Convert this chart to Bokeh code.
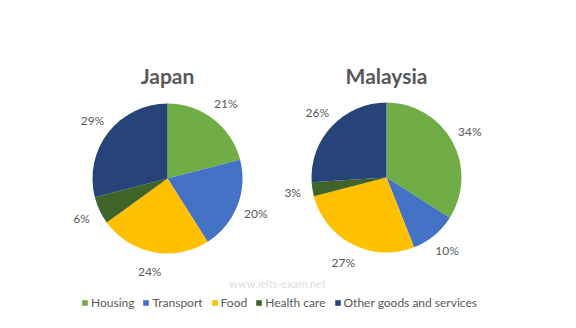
import numpy as np
from bokeh.plotting import figure
from bokeh.models import ColumnDataSource, Range1d, Legend, LegendItem, Label
from bokeh.embed import file_html
from bokeh.resources import INLINE

categories = ["Housing", "Transport", "Food", "Health care", "Other goods and services"]
japan = [21, 20, 24, 6, 29]
malaysia = [34, 10, 27, 3, 26]
countries = ["Japan", "Malaysia"]
colors = ["#70AD47", "#4472C4", "#FFC000", "#3F6429", "#264478"]

W, H = 576, 328
centers = [(167, 150), (386, 151)]
R = 75
LR = 95
TEXT = "#595959"
FONT = "Lato"

p = figure(width=W, height=H, x_range=Range1d(0, W), y_range=Range1d(0, H),
           output_backend="svg", toolbar_location=None, min_border=0,
           x_axis_location=None, y_axis_location=None)
p.grid.visible = False
p.outline_line_color = None
p.background_fill_color = "white"

renderers = []
for (cx, cy), vals, name in zip(centers, [japan, malaysia], countries):
    v = np.array(vals, dtype=float)
    frac = v / v.sum()
    cum = np.concatenate([[0], np.cumsum(frac)])
    start = np.pi / 2 - 2 * np.pi * cum[:-1]
    end = np.pi / 2 - 2 * np.pi * cum[1:]
    mid = (start + end) / 2
    src = ColumnDataSource(dict(
        start=start, end=end, color=colors, cat=categories,
        lx=cx + LR * np.cos(mid), ly=cy + LR * np.sin(mid),
        lab=[f"{int(x)}%" for x in vals],
    ))
    r = p.wedge(x=cx, y=cy, radius=R, start_angle="start", end_angle="end",
                direction="clock", fill_color="color", line_color=None, source=src)
    renderers.append(r)
    p.text(x="lx", y="ly", text="lab", source=src, text_align="center",
           text_baseline="middle", text_color=TEXT, text_font_size="12px",
           text_font={"value": FONT})
    p.add_layout(Label(x=cx, y=H - 75, text=name, text_align="center",
                       text_baseline="middle", text_color=TEXT, text_font=FONT,
                       text_font_size="21px", text_font_style="bold"))

p.add_layout(Label(x=277, y=H - 283, text="www.ielts-exam.net", text_align="center",
                   text_baseline="middle", text_color="#DDDDDD", text_font=FONT,
                   text_font_size="11px"))

items = [LegendItem(label=c, renderers=[renderers[0]], index=i) for i, c in enumerate(categories)]
legend = Legend(items=items, orientation="horizontal", location=(81, 18),
                glyph_width=7, glyph_height=7, label_standoff=3, spacing=8,
                padding=0, margin=0, border_line_color=None, background_fill_alpha=0,
                label_text_font=FONT, label_text_font_size="12px", label_text_color=TEXT)
p.add_layout(legend)

open("out.html", "w").write(file_html(p, INLINE))
